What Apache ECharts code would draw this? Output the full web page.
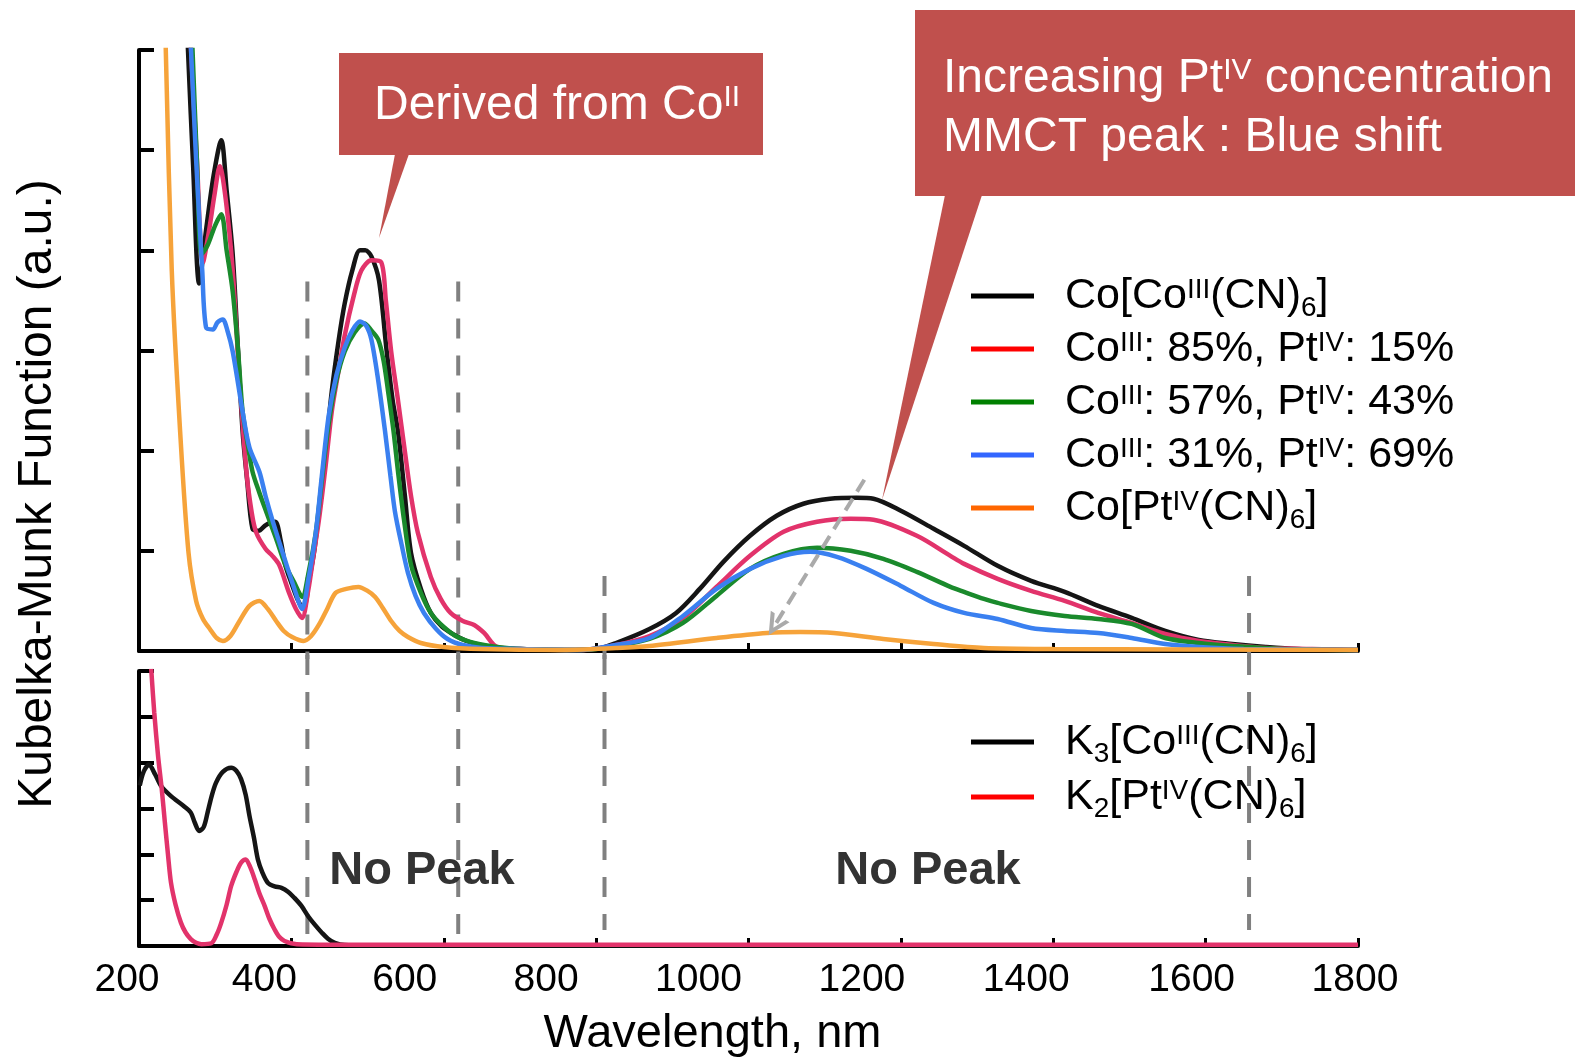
<!DOCTYPE html>
<html><head><meta charset="utf-8">
<script src="https://cdn.jsdelivr.net/npm/echarts@6/dist/echarts.min.js"></script>
<style>html,body{margin:0;padding:0;background:#fff}#c{width:1575px;height:1058px}</style>
</head><body><div id="c"></div>
<script>
const FONT = "'Liberation Sans', Arial, sans-serif";

// ---------- data ----------
const xTicks = [200, 400, 600, 800, 1000, 1200, 1400, 1600, 1800];
const xLabelShift = [-12, -27, -39, -50, -50, -39, -27, -14, -3];

const topNames = ['Co[CoIII(CN)6]', 'CoIII: 85%, PtIV: 15%', 'CoIII: 57%, PtIV: 43%', 'CoIII: 31%, PtIV: 69%', 'Co[PtIV(CN)6]'];
const topLegendText = [
  '{sp| }{t|Co[Co}{sup|III}{t|(CN)}{sub|6}{t|]}',
  '{sp| }{t|Co}{sup|III}{t|: 85%, Pt}{sup|IV}{t|: 15%}',
  '{sp| }{t|Co}{sup|III}{t|: 57%, Pt}{sup|IV}{t|: 43%}',
  '{sp| }{t|Co}{sup|III}{t|: 31%, Pt}{sup|IV}{t|: 69%}',
  '{sp| }{t|Co[Pt}{sup|IV}{t|(CN)}{sub|6}{t|]}'
];
const bottomNames = ['K3[CoIII(CN)6]', 'K2[PtIV(CN)6]'];
const bottomLegendText = [
  '{sp| }{t|K}{sub|3}{t|[Co}{sup|III}{t|(CN)}{sub|6}{t|]}',
  '{sp| }{t|K}{sub|2}{t|[Pt}{sup|IV}{t|(CN)}{sub|6}{t|]}'
];

const blackTop = [[264,6.05],[271,4.85],[279,3.67],[288,4.2],[298,4.75],[308,5.1],[315,4.6],[323,3.96],[330,3.0],[336,2.19],[342,1.7],[349,1.22],[357,1.2],[365,1.25],[372,1.28],[379,1.29],[386,1.1],[392,0.86],[400,0.68],[409,0.5],[416,0.42],[423,0.7],[430,1.0],[436,1.39],[445,2.0],[453,2.59],[462,3.1],[470,3.47],[480,3.8],[490,4.0],[497,4.0],[505,3.94],[515,3.7],[525,3.0],[533,2.5],[540,2.19],[549,1.55],[557,0.98],[570,0.62],[583,0.38],[598,0.24],[614,0.16],[630,0.1],[648,0.06],[670,0.03],[700,0.02],[760,0.01],[800,0.02],[826,0.08],[870,0.22],[905,0.38],[936,0.62],[967,0.89],[1002,1.15],[1037,1.35],[1072,1.47],[1107,1.52],[1142,1.53],[1164,1.52],[1200,1.4],[1243,1.22],[1283,1.05],[1327,0.85],[1371,0.7],[1415,0.59],[1459,0.45],[1503,0.33],[1547,0.2],[1591,0.11],[1635,0.07],[1679,0.04],[1720,0.02],[1800,0.01]];
const redTop = [[268,6.05],[276,4.9],[284,3.88],[292,4.2],[299,4.55],[306,4.84],[314,4.5],[323,3.8],[332,2.7],[341,1.79],[348,1.38],[354,1.18],[366,1.02],[375,0.95],[384,0.86],[397,0.58],[406,0.42],[414,0.33],[422,0.6],[429,0.95],[436,1.3],[445,1.85],[453,2.39],[462,2.8],[470,3.15],[482,3.55],[492,3.8],[505,3.9],[518,3.88],[524,3.5],[531,2.99],[540,2.5],[549,1.99],[557,1.55],[566,1.18],[583,0.74],[596,0.52],[609,0.38],[625,0.3],[640,0.26],[653,0.18],[670,0.04],[700,0.02],[780,0.01],[826,0.06],[870,0.15],[914,0.33],[958,0.64],[1002,0.95],[1046,1.19],[1090,1.29],[1134,1.32],[1164,1.31],[1221,1.15],[1265,0.95],[1283,0.87],[1327,0.72],[1371,0.6],[1415,0.5],[1459,0.38],[1503,0.28],[1547,0.17],[1591,0.1],[1635,0.06],[1679,0.03],[1740,0.02],[1800,0.01]];
const greenTop = [[270,6.05],[276,4.9],[282,3.96],[290,4.05],[300,4.25],[308,4.36],[315,4.0],[323,3.59],[330,3.0],[336,2.39],[343,2.05],[349,1.79],[358,1.58],[367,1.39],[380,1.12],[392,0.86],[404,0.68],[414,0.54],[423,0.8],[432,1.18],[440,1.7],[449,2.27],[459,2.7],[470,2.99],[483,3.18],[496,3.27],[505,3.2],[514,3.11],[521,2.9],[527,2.59],[534,2.2],[540,1.79],[548,1.3],[557,0.86],[570,0.58],[583,0.38],[600,0.24],[618,0.14],[640,0.08],[670,0.04],[700,0.02],[780,0.01],[826,0.05],[870,0.12],[914,0.28],[958,0.55],[1002,0.82],[1046,0.97],[1090,1.03],[1134,1.0],[1177,0.92],[1221,0.79],[1265,0.64],[1283,0.59],[1309,0.52],[1327,0.48],[1371,0.4],[1415,0.35],[1459,0.32],[1503,0.27],[1547,0.13],[1591,0.08],[1635,0.05],[1700,0.02],[1800,0.01]];
const blueTop = [[268,6.05],[275,4.9],[283,3.8],[288,3.23],[297,3.21],[303,3.28],[310,3.31],[316,3.2],[323,2.99],[336,2.39],[345,2.03],[358,1.79],[366,1.55],[375,1.31],[392,0.9],[404,0.62],[414,0.42],[422,0.7],[432,1.18],[440,1.75],[449,2.35],[459,2.75],[470,3.03],[480,3.2],[490,3.29],[498,3.25],[505,3.11],[514,2.7],[523,2.19],[530,1.75],[536,1.39],[545,1.05],[553,0.78],[563,0.55],[574,0.38],[590,0.22],[605,0.12],[625,0.06],[650,0.03],[700,0.02],[780,0.01],[826,0.06],[870,0.13],[914,0.35],[958,0.62],[1002,0.82],[1046,0.95],[1081,0.99],[1116,0.94],[1155,0.82],[1200,0.65],[1243,0.48],[1283,0.38],[1327,0.32],[1371,0.23],[1415,0.2],[1459,0.18],[1503,0.13],[1547,0.07],[1591,0.04],[1650,0.02],[1800,0.01]];
const orangeTop = [[235,6.05],[243,3.8],[254,2.19],[265,0.98],[275,0.5],[284,0.32],[293,0.22],[302,0.13],[310,0.1],[320,0.15],[332,0.3],[345,0.45],[358,0.5],[369,0.42],[380,0.3],[390,0.2],[401,0.14],[416,0.1],[426,0.15],[436,0.26],[447,0.42],[458,0.58],[472,0.62],[488,0.64],[500,0.6],[510,0.54],[520,0.43],[531,0.3],[542,0.2],[553,0.14],[570,0.08],[600,0.04],[650,0.02],[750,0.01],[826,0.03],[870,0.05],[958,0.13],[1024,0.18],[1068,0.19],[1112,0.18],[1177,0.12],[1243,0.07],[1309,0.03],[1400,0.02],[1800,0.01]];

const blackBottom = [[201,3.5],[206,3.8],[213,3.96],[221,3.75],[229,3.49],[242,3.27],[259,3.05],[268,2.91],[273,2.7],[279,2.51],[285,2.6],[290,2.91],[295,3.25],[301,3.56],[310,3.8],[321,3.89],[328,3.82],[334,3.64],[340,3.3],[345,2.84],[351,2.35],[356,1.89],[362,1.6],[369,1.38],[378,1.3],[387,1.27],[396,1.18],[404,1.05],[413,0.88],[422,0.65],[431,0.46],[440,0.29],[448,0.16],[457,0.07],[470,0.02],[500,0.01],[1800,0.01]];
const redBottom = [[216,6.05],[220,5.1],[225,4.15],[230,3.4],[234,2.69],[238,2.0],[242,1.38],[248,0.9],[255,0.51],[261,0.3],[268,0.15],[275,0.07],[282,0.04],[295,0.06],[302,0.25],[308,0.51],[315,0.9],[321,1.31],[328,1.62],[334,1.82],[340,1.89],[346,1.72],[352,1.45],[358,1.15],[365,0.87],[371,0.6],[378,0.36],[384,0.2],[391,0.11],[407,0.04],[450,0.03],[1800,0.03]];

// boundaries of the "No Peak" regions (nm)
const noPeakX = [421, 619, 811, 1657];
// blue-shift arrow (nm, a.u.)
const arrowFrom = [1152, 1.71];
const arrowTo = [1034, 0.25];

// ---------- styling ----------
const curveColors = ['#151515', '#e2336b', '#1a8a2c', '#3a80f0', '#f6a33a'];
const topLegendColors = ['#000000', '#ff0000', '#008000', '#3366ff', '#ff6600'];
const bottomCurveColors = ['#151515', '#e2336b'];
const bottomLegendColors = ['#000000', '#ff0000'];

const legendRich = {
  sp: { width: 26, fontSize: 43, lineHeight: 53 },
  t: { fontSize: 43, lineHeight: 53, fontFamily: FONT, color: '#000' },
  sup: { fontSize: 28, lineHeight: 28, fontFamily: FONT, color: '#000', verticalAlign: 'top', padding: [7, 0, 0, 0] },
  sub: { fontSize: 28, lineHeight: 28, fontFamily: FONT, color: '#000', verticalAlign: 'bottom', padding: [0, 0, 0, 0] }
};
const boxRich = {
  t: { fontSize: 48, lineHeight: 59, fontFamily: FONT, fill: '#ffffff' },
  sup: { fontSize: 30, lineHeight: 30, fontFamily: FONT, fill: '#ffffff', verticalAlign: 'top', padding: [7, 0, 0, 0] }
};
const xRich = {};
xTicks.forEach((t, i) => {
  const s = xLabelShift[i];
  xRich['s' + t] = { fontSize: 39, lineHeight: 40, fontFamily: FONT, color: '#000',
    padding: s < 0 ? [0, -2 * s, 0, 0] : [0, 0, 0, 2 * s] };
});

function curve(name, data, color, idx) {
  return { type: 'line', name, data, xAxisIndex: idx, yAxisIndex: idx, symbol: 'none', showSymbol: false,
    smooth: 0.3, clip: true, lineStyle: { color, width: 4.5 }, itemStyle: { color }, animation: false };
}
function dashed(x, yTop, yBot, idx) {
  return { type: 'line', data: [[x, yTop], [x, yBot]], xAxisIndex: idx, yAxisIndex: idx, symbol: 'none',
    showSymbol: false, clip: false, silent: true, z: 1,
    lineStyle: { color: '#808080', width: 4, type: [20, 17] }, animation: false };
}

const series = [];
const topData = [blackTop, redTop, greenTop, blueTop, orangeTop];
// dashed boundaries
series.push(dashed(noPeakX[0], 3.69, -0.08, 0), dashed(noPeakX[1], 3.69, -0.08, 0),
  dashed(noPeakX[2], 0.75, -0.08, 0), dashed(noPeakX[3], 0.75, -0.08, 0));
series.push(dashed(noPeakX[0], 6.35, 0.2, 1), dashed(noPeakX[1], 6.35, 0.2, 1),
  dashed(noPeakX[2], 6.35, 0.35, 1), dashed(noPeakX[3], 6.35, 0.35, 1));
topData.forEach((d, i) => series.push(curve(topNames[i], d, curveColors[i], 0)));
series.push(curve(bottomNames[0], blackBottom, bottomCurveColors[0], 1));
series.push(curve(bottomNames[1], redBottom, bottomCurveColors[1], 1));
// blue shift arrow
series[series.length - 3].markLine = {
  silent: true, animation: false, symbol: ['none', 'path://M12,0 L24,22 L19,22 L12,9 L5,22 L0,22 Z'],
  symbolSize: [22, 22], label: { show: false },
  lineStyle: { color: '#aaaaaa', width: 4, type: [14, 8] },
  data: [[{ coord: arrowFrom }, { coord: arrowTo }]]
};

const yAxisCommon = {
  type: 'value', min: 0, max: 6, interval: 1,
  axisLine: { show: true, onZero: false, lineStyle: { color: '#000', width: 4 } },
  axisTick: { show: true, inside: true, length: 15, lineStyle: { color: '#000', width: 4 } },
  axisLabel: { show: false }, splitLine: { show: false }
};
const xAxisCommon = {
  type: 'value', min: 200, max: 1800, interval: 200,
  axisLine: { show: true, onZero: false, lineStyle: { color: '#000', width: 4 } },
  axisTick: { show: true, inside: true, length: 8, lineStyle: { color: '#000', width: 3 } },
  splitLine: { show: false }
};

const option = {
  animation: false,
  backgroundColor: '#ffffff',
  textStyle: { fontFamily: FONT },
  grid: [
    { left: 139, right: 217, top: 50, height: 601, outerBoundsMode: 'none', containLabel: false },
    { left: 139, right: 217, top: 671, height: 275, outerBoundsMode: 'none', containLabel: false }
  ],
  xAxis: [
    Object.assign({}, xAxisCommon, { gridIndex: 0, axisLabel: { show: false } }),
    Object.assign({}, xAxisCommon, {
      gridIndex: 1,
      axisLabel: { show: true, margin: 14, formatter: v => '{s' + v + '|' + v + '}', rich: xRich },
      name: 'Wavelength, nm', nameLocation: 'middle', nameGap: 65,
      nameTextStyle: { fontSize: 47, fontFamily: FONT, color: '#000', padding: [0, 72, 0, 0] }
    })
  ],
  yAxis: [
    Object.assign({}, yAxisCommon, { gridIndex: 0 }),
    Object.assign({}, yAxisCommon, { gridIndex: 1 })
  ],
  legend: [
    {
      data: topNames.map((n, i) => ({ name: n, itemStyle: { color: topLegendColors[i] } })),
      orient: 'vertical', left: 971, top: 269.5, padding: 0, itemGap: 0,
      icon: 'rect', itemWidth: 63, itemHeight: 5, selectedMode: false,
      formatter: n => topLegendText[topNames.indexOf(n)],
      textStyle: { fontSize: 43, lineHeight: 53, fontFamily: FONT, color: '#000', rich: legendRich }
    },
    {
      data: bottomNames.map((n, i) => ({ name: n, itemStyle: { color: bottomLegendColors[i] } })),
      orient: 'vertical', left: 971, top: 715.5, padding: 0, itemGap: 2,
      icon: 'rect', itemWidth: 63, itemHeight: 5, selectedMode: false,
      formatter: n => bottomLegendText[bottomNames.indexOf(n)],
      textStyle: { fontSize: 43, lineHeight: 53, fontFamily: FONT, color: '#000', rich: legendRich }
    }
  ],
  graphic: [
    { type: 'text', x: 38, y: 494, rotation: Math.PI / 2, z: 100,
      style: { text: 'Kubelka-Munk Function (a.u.)', fontSize: 48, fontFamily: FONT, fill: '#000', align: 'center', verticalAlign: 'middle' } },
    { type: 'text', x: 422, y: 871, z: 100,
      style: { text: 'No Peak', fontSize: 47, fontWeight: 'bold', fontFamily: FONT, fill: '#333333', align: 'center', verticalAlign: 'middle' } },
    { type: 'text', x: 928, y: 871, z: 100,
      style: { text: 'No Peak', fontSize: 47, fontWeight: 'bold', fontFamily: FONT, fill: '#333333', align: 'center', verticalAlign: 'middle' } },
    // callout 1
    { type: 'rect', z: 100, shape: { x: 339, y: 53, width: 424, height: 102 }, style: { fill: '#c0504d' } },
    { type: 'polygon', z: 100, shape: { points: [[395, 154], [409, 154], [379, 238]] }, style: { fill: '#c0504d' } },
    { type: 'text', x: 374, y: 76, z: 101,
      style: { text: '{t|Derived from Co}{sup|II}', rich: boxRich, align: 'left', verticalAlign: 'top' } },
    // callout 2
    { type: 'rect', z: 100, shape: { x: 915, y: 10, width: 660, height: 186 }, style: { fill: '#c0504d' } },
    { type: 'polygon', z: 100, shape: { points: [[945, 195], [982, 195], [882, 500]] }, style: { fill: '#c0504d' } },
    { type: 'text', x: 943, y: 49, z: 101,
      style: { text: '{t|Increasing Pt}{sup|IV}{t| concentration}\n{t|MMCT peak : Blue shift}', rich: boxRich, align: 'left', verticalAlign: 'top' } }
  ],
  series
};

const chart = echarts.init(document.getElementById('c'), null, { renderer: 'canvas' });
chart.setOption(option);
</script>
</body></html>
